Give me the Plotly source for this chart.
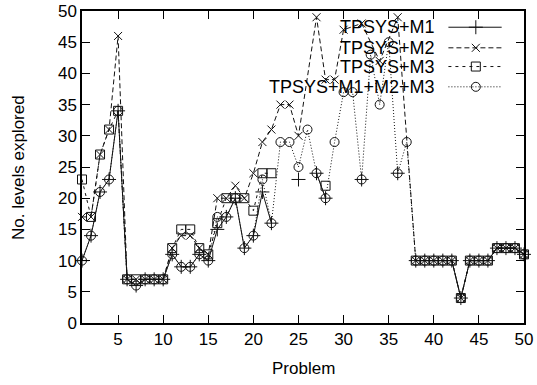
import plotly.graph_objects as go

problems = list(range(1, 51))
N = None
m1 = [10, 14, 21, 23, 34, 7, 6, 7, 7, 7,
      11, 9, 9, 11, 10, 15, 17, 20, 12, 14,
      21, 16, N, N, 23, N, 24, 20, N, N,
      N, 23, N, N, N, 24, N, 10, 10, 10,
      10, 10, 4, 10, 10, 10, 12, 12, 12, 11]
m2 = [17, 17, 27, 31, 46, 7, 7, 7, 7, 7,
      12, 14, 14, 12, 11, 20, 20, 22, 20, 24,
      29, 31, 35, 35, 30, N, 49, 39, 39, 47,
      N, 48, N, 42, N, 49, N, 10, 10, 10,
      10, 10, 4, 10, 10, 10, 12, 12, 12, 11]
m3 = [23, 17, 27, 31, 34, 7, 7, 7, 7, 7,
      12, 15, 15, 12, 11, 16, 20, 20, 20, 18,
      24, 24, N, N, N, N, N, 22, N, N,
      N, N, N, N, N, N, N, 10, 10, 10,
      10, 10, 4, 10, 10, 10, 12, 12, 12, 11]
m_all = [10, 14, 21, 23, 34, 7, 6, 7, 7, 7,
         11, 9, 9, 11, 10, 17, 17, 20, 12, 14,
         23, 16, 29, 29, 25, 31, 24, 20, 29, 37,
         37, 23, 43, 35, 45, 24, 29, 10, 10, 10,
         10, 10, 4, 10, 10, 10, 12, 12, 12, 11]

names = ["TPSYS+M1", "TPSYS+M2", "TPSYS+M3", "TPSYS+M1+M2+M3"]
x_ticks = list(range(5, 51, 5))
y_ticks = list(range(0, 51, 5))

series = [m1, m2, m3, m_all]
dashes = ["solid", "5px,3px", "3px,4px", "1px,2px"]
symbols = ["cross-thin-open", "x-thin-open", "square-open", "circle-open"]
msizes = [10, 8, 9, 9]
connect = [False, True, False, True]
ink = "#111111"

fig = go.Figure()
for vals, nm, ds, sy, ms, cg in zip(series, names, dashes, symbols, msizes, connect):
    fig.add_trace(go.Scatter(
        x=problems, y=vals, name=nm, mode="lines+markers", connectgaps=cg,
        line=dict(color=ink, width=1, dash=ds),
        marker=dict(symbol=sy, size=ms, color=ink, line=dict(color=ink, width=1)),
        showlegend=False, cliponaxis=False))

# custom gnuplot-style legend (text, then sample)
row_y = [0.948, 0.882, 0.822, 0.757]
for ry, nm, ds, sy, ms in zip(row_y, names, dashes, symbols, msizes):
    fig.add_trace(go.Scatter(
        x=[0.829, 0.891, 0.9495], y=[ry, ry, ry], mode="lines",
        line=dict(color=ink, width=1, dash=ds), xaxis="x2", yaxis="y2",
        showlegend=False, hoverinfo="skip"))
    fig.add_trace(go.Scatter(
        x=[0.891], y=[ry], mode="markers", xaxis="x2", yaxis="y2",
        marker=dict(symbol=sy, size=ms, color=ink, line=dict(color=ink, width=1)),
        showlegend=False, hoverinfo="skip"))
    fig.add_annotation(x=0.8025, y=ry, xref="paper", yref="paper", text=nm,
                       showarrow=False, xanchor="right", yanchor="middle",
                       font=dict(size=18, color="black"))

fig.add_annotation(x=0.5, y=-0.145, xref="paper", yref="paper", text="Problem",
                   showarrow=False, xanchor="center", yanchor="middle",
                   font=dict(size=17, color="black"))
fig.add_annotation(x=-0.145, y=0.5, xref="paper", yref="paper",
                   text="No. levels explored", textangle=-90,
                   showarrow=False, xanchor="center", yanchor="middle",
                   font=dict(size=17, color="black"))

axis_common = dict(showgrid=False, zeroline=False, showline=True, linecolor="black",
                   linewidth=1.5, mirror="ticks", ticks="inside", ticklen=8,
                   tickwidth=1, tickcolor="black", automargin=False,
                   tickfont=dict(size=17, color="black"))
fig.update_layout(
    width=537, height=385,
    margin=dict(l=82, r=13, t=11, b=62, autoexpand=False),
    paper_bgcolor="white", plot_bgcolor="white",
    font=dict(family="Liberation Sans, Arial, sans-serif", color="black"),
    xaxis=dict(range=[1, 50], tickvals=x_ticks, **axis_common),
    yaxis=dict(range=[0, 50], tickvals=y_ticks, **axis_common),
    xaxis2=dict(range=[0, 1], overlaying="x", visible=False, fixedrange=True),
    yaxis2=dict(range=[0, 1], overlaying="y", visible=False, fixedrange=True),
)

fig.write_html("out.html")
